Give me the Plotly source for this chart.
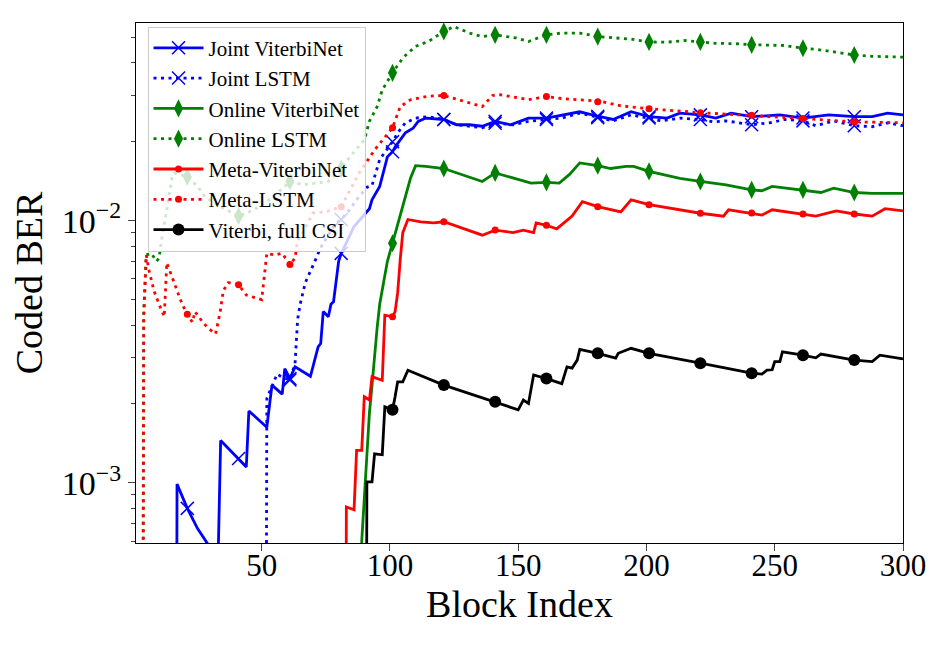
import plotly.graph_objects as go

# ------------------ values ------------------
# (block index, coded BER) pairs; 0 means no errors yet
JOINT_VITERBINET = [
    (1, 0), (16, 0), (17, 0.00099), (21, 0.0008), (25, 0.00067), (29, 0.00058),
    (33, 0.00051), (34, 0.00145), (41, 0.00124), (44, 0.00115), (45, 0.00188),
    (51, 0.00166), (52, 0.00163), (54, 0.00236), (58, 0.00218), (59, 0.00273),
    (61, 0.0025), (63, 0.00277), (69, 0.00255), (72, 0.0033), (73, 0.0034),
    (74, 0.0045), (76, 0.0043), (77, 0.0048), (78, 0.0049), (80, 0.0070),
    (81, 0.0075), (86, 0.0095), (92, 0.0111), (93, 0.0120), (96, 0.0135),
    (99, 0.0175), (101, 0.0183), (102, 0.0191), (106, 0.0216), (109, 0.0225),
    (111, 0.0239), (114, 0.0246), (121, 0.0243), (126, 0.0232), (131, 0.0232),
    (136, 0.0229), (141, 0.0239), (147, 0.0232), (149, 0.0236), (154, 0.0246),
    (161, 0.0246), (167, 0.0253), (174, 0.0260), (181, 0.0250), (187, 0.0243),
    (194, 0.0260), (201, 0.0249), (208, 0.0246), (213, 0.0257), (221, 0.0253),
    (227, 0.0246), (233, 0.0257), (241, 0.0249), (252, 0.0253), (261, 0.0246),
    (271, 0.0253), (281, 0.0249), (288, 0.0249), (294, 0.0257), (300, 0.0253),
]
JOINT_LSTM = [
    (1, 0), (51, 0), (52, 0.0021), (54, 0.00232), (56, 0.0026), (58, 0.00253),
    (61, 0.00247), (63, 0.00285), (64, 0.0042), (65, 0.0048), (67, 0.0058),
    (71, 0.0071), (73, 0.0079), (78, 0.0095), (81, 0.0101), (83, 0.0106),
    (87, 0.0120), (91, 0.0134), (93, 0.0136), (96, 0.0171), (101, 0.0200),
    (103, 0.0216), (106, 0.0236), (110, 0.0246), (115, 0.0249), (121, 0.0243),
    (126, 0.0232), (136, 0.0226), (141, 0.0235), (148, 0.0232), (154, 0.0239),
    (161, 0.0243), (167, 0.0246), (174, 0.0257), (181, 0.0247), (187, 0.0240),
    (194, 0.0253), (201, 0.0246), (206, 0.0240), (213, 0.0246), (221, 0.0243),
    (226, 0.0238), (231, 0.0240), (241, 0.0232), (248, 0.0236), (254, 0.0243),
    (261, 0.0240), (266, 0.0230), (273, 0.0240), (281, 0.0230), (288, 0.0228),
    (294, 0.0236), (300, 0.0230),
]
ONLINE_VITERBINET = [
    (1, 0), (88, 0), (89, 0.00060), (91, 0.00126), (92, 0.00185), (93, 0.00235),
    (94, 0.0031), (95, 0.0039), (96, 0.0048), (98, 0.0063), (99, 0.0070),
    (101, 0.0082), (103, 0.0097), (104, 0.0104), (106, 0.0124), (108, 0.0145),
    (110, 0.0162), (114, 0.0161), (121, 0.0158), (136, 0.0141), (141, 0.0152),
    (155, 0.0139), (161, 0.0140), (166, 0.0139), (170, 0.0150), (174, 0.0166),
    (181, 0.0162), (186, 0.0158), (192, 0.0161), (195, 0.0161), (201, 0.0154),
    (213, 0.0145), (221, 0.0141), (231, 0.0137), (241, 0.0131), (245, 0.0130),
    (249, 0.0135), (261, 0.0131), (268, 0.0128), (273, 0.0133), (281, 0.0128),
    (288, 0.0127), (300, 0.0127),
]
ONLINE_LSTM = [
    (1, 0), (3, 0), (4, 0.0045), (5, 0.0074), (7, 0.0075), (9, 0.0070),
    (10, 0.0072), (11, 0.0085), (13, 0.0110), (15, 0.0145), (16, 0.0152),
    (21, 0.0147), (25, 0.0135), (28, 0.0123), (34, 0.0113), (41, 0.0104),
    (47, 0.0110), (53, 0.0120), (59, 0.0135), (61, 0.0141), (66, 0.0137),
    (71, 0.0139), (76, 0.0141), (81, 0.0158), (85, 0.0178), (90, 0.0203),
    (92, 0.0239), (95, 0.0272), (97, 0.0315), (101, 0.0366), (105, 0.0417),
    (110, 0.0462), (115, 0.0482), (121, 0.0526), (125, 0.0549), (131, 0.0519),
    (136, 0.0503), (141, 0.0511), (149, 0.0497), (154, 0.0482), (161, 0.0511),
    (167, 0.0519), (174, 0.0519), (181, 0.0503), (187, 0.0497), (194, 0.0492),
    (201, 0.0480), (208, 0.0479), (215, 0.0486), (221, 0.0480), (227, 0.0474),
    (234, 0.0473), (241, 0.0468), (247, 0.0467), (254, 0.0465), (261, 0.0454),
    (266, 0.0450), (273, 0.0440), (281, 0.0428), (288, 0.0423), (300, 0.0420),
]
META_VITERBINET = [
    (1, 0), (82, 0), (83, 0.00081), (86, 0.00079), (87, 0.00133), (89, 0.00133),
    (90, 0.00213), (92, 0.00207), (93, 0.00254), (97, 0.00246), (98, 0.00436),
    (101, 0.0043), (102, 0.0045), (103, 0.0053), (104, 0.0071), (105, 0.0090),
    (107, 0.0101), (112, 0.0099), (117, 0.0098), (121, 0.0099), (136, 0.0088),
    (141, 0.0092), (148, 0.0090), (152, 0.0092), (156, 0.0090), (157, 0.0098),
    (161, 0.0096), (165, 0.0093), (171, 0.0104), (175, 0.0118), (181, 0.0113),
    (190, 0.0108), (194, 0.0120), (201, 0.0115), (221, 0.01067), (230, 0.0104),
    (232, 0.0110), (241, 0.0107), (245, 0.0105), (249, 0.0110), (261, 0.0106),
    (266, 0.0104), (274, 0.0109), (281, 0.0106), (288, 0.0104), (293, 0.0111),
    (300, 0.0109),
]
META_LSTM = [
    (1, 0), (3, 0), (4, 0.0042), (5, 0.0074), (6, 0.0065), (8, 0.0054),
    (10, 0.0048), (12, 0.0043), (13, 0.0069), (14, 0.0065), (16, 0.0057),
    (19, 0.0048), (21, 0.0044), (23, 0.0041), (24, 0.0045), (27, 0.0041),
    (29, 0.0039), (32, 0.0037), (33, 0.0041), (34, 0.0046), (35, 0.0054),
    (37, 0.0058), (41, 0.0057), (44, 0.0052), (47, 0.0051), (50, 0.0050),
    (52, 0.0075), (55, 0.0074), (58, 0.0075), (61, 0.0068), (63, 0.0072),
    (64, 0.0084), (66, 0.0090), (70, 0.0107), (75, 0.0108), (81, 0.0113),
    (88, 0.0152), (94, 0.0186), (101, 0.0226), (104, 0.0272), (108, 0.0289),
    (115, 0.0298), (121, 0.0300), (136, 0.0272), (140, 0.0300), (143, 0.0302),
    (154, 0.0289), (161, 0.0297), (167, 0.0292), (181, 0.0284), (182, 0.0285),
    (190, 0.0274), (201, 0.0267), (221, 0.0258), (241, 0.0252), (261, 0.0245),
    (281, 0.0238), (300, 0.0236),
]
VITERBI_FULL_CSI = [
    (1, 0), (90, 0), (91, 0.00101), (93, 0.00101), (94, 0.00129), (97, 0.00128),
    (98, 0.00195), (101, 0.0019), (102, 0.00213), (103, 0.00243), (105, 0.00243),
    (107, 0.00269), (121, 0.00236), (141, 0.00204), (150, 0.0019), (152, 0.00207),
    (154, 0.00201), (156, 0.00258), (161, 0.0025), (167, 0.00239), (169, 0.00277),
    (171, 0.00274), (173, 0.00294), (174, 0.00323), (181, 0.00312), (188, 0.00299),
    (189, 0.00312), (194, 0.00326), (201, 0.00312), (221, 0.00286), (241, 0.00262),
    (245, 0.0026), (247, 0.00269), (249, 0.0027), (250, 0.0029), (252, 0.0029),
    (253, 0.00316), (261, 0.00307), (266, 0.0030), (268, 0.0031), (281, 0.00294),
    (288, 0.0029), (291, 0.00307), (300, 0.00297),
]

# markers every 20 blocks
MARK_X = [21, 41, 61, 81, 101, 121, 141, 161, 181, 201, 221, 241, 261, 281]

X_TICKS = [50, 100, 150, 200, 250, 300]
Y_TICKS = [1e-3, 1e-2]
Y_TICK_TEXT = ['10<sup>−3</sup>', '10<sup>−2</sup>']
Y_MINOR = [6e-4, 7e-4, 8e-4, 9e-4, 2e-3, 3e-3, 4e-3, 5e-3, 6e-3, 7e-3, 8e-3, 9e-3,
           2e-2, 3e-2, 4e-2, 5e-2]

# zero BER is clipped to a tiny value, like matplotlib does on a log axis
CLIP = 1e-7

FONT = 'Liberation Serif'
DOTS = '3px,4.5px'

series = [
    ('Joint ViterbiNet', JOINT_VITERBINET, 'blue', 'solid', 'x-thin', 13),
    ('Joint LSTM', JOINT_LSTM, 'blue', DOTS, 'x-thin', 13),
    ('Online ViterbiNet', ONLINE_VITERBINET, 'green', 'solid', 'diamond-tall', 13),
    ('Online LSTM', ONLINE_LSTM, 'green', DOTS, 'diamond-tall', 13),
    ('Meta-ViterbiNet', META_VITERBINET, 'red', 'solid', 'circle', 7),
    ('Meta-LSTM', META_LSTM, 'red', DOTS, 'circle', 7),
    ('Viterbi, full CSI', VITERBI_FULL_CSI, 'black', 'solid', 'circle', 12),
]

fig = go.Figure()

for name, data, color, dash, symbol, msize in series:
    xs = [p[0] for p in data]
    ys = [max(p[1], CLIP) for p in data]
    mx = [p[0] for p in data if p[0] in MARK_X and p[1] > 0]
    my = [p[1] for p in data if p[0] in MARK_X and p[1] > 0]
    mline = dict(color=color, width=1.5) if symbol == 'x-thin' else dict(width=0)

    fig.add_trace(go.Scatter(x=xs, y=ys, mode='lines', showlegend=False,
                             line=dict(color=color, width=2.8, dash=dash)))
    fig.add_trace(go.Scatter(x=mx, y=my, mode='markers', showlegend=False,
                             marker=dict(color=color, symbol=symbol, size=msize, line=mline)))
    # legend entry only
    fig.add_trace(go.Scatter(x=[None], y=[None], mode='lines+markers', name=name,
                             line=dict(color=color, width=2.8, dash=dash),
                             marker=dict(color=color, symbol=symbol, size=msize, line=mline)))

# page body has an 8px margin, so the figure is 8px smaller than the window
fig.update_layout(
    width=942, height=637,
    margin=dict(l=128, r=47, t=15, b=102),
    paper_bgcolor='white', plot_bgcolor='white',
    font=dict(family=FONT, color='black'),
    legend=dict(x=0.015, y=0.993, xanchor='left', yanchor='top', itemwidth=50,
                bgcolor='rgba(255,255,255,0.8)', bordercolor='#cccccc', borderwidth=1,
                font=dict(family=FONT, size=21)),
)

fig.update_xaxes(
    range=[1, 300], tickvals=X_TICKS, ticks='outside', ticklen=7, tickwidth=1.2,
    tickfont=dict(size=31), ticklabelstandoff=-12, showgrid=False, zeroline=False,
    showline=True, mirror=True, linecolor='black', linewidth=1.2,
    title=dict(text='Block Index', font=dict(size=38), standoff=0),
)
fig.update_yaxes(
    type='log', range=[-3.229, -1.2466], tickvals=Y_TICKS, ticktext=Y_TICK_TEXT,
    ticks='outside', ticklen=7, tickwidth=1.2, tickfont=dict(size=34),
    minor=dict(tickmode='array', tickvals=Y_MINOR, ticks='outside', ticklen=4,
               tickwidth=1, showgrid=False),
    showgrid=False, zeroline=False,
    showline=True, mirror=True, linecolor='black', linewidth=1.2,
    title=dict(text='Coded BER', font=dict(size=38), standoff=8),
)

fig.write_html("out.html")
